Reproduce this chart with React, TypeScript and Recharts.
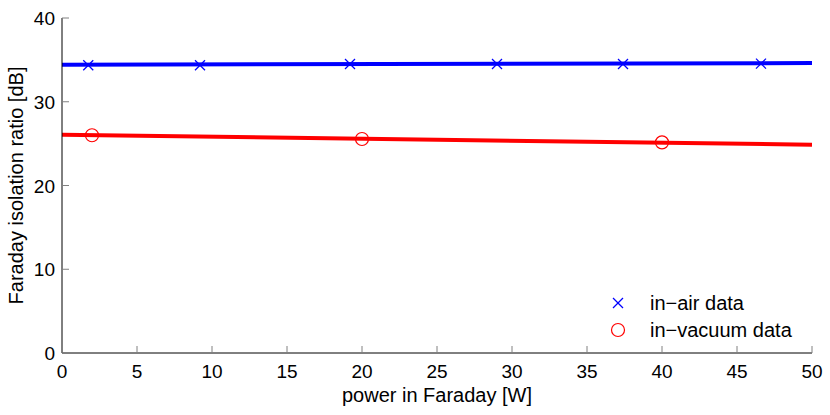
import { ComposedChart, Line, Scatter, XAxis, YAxis } from 'recharts';

const airPower = [1.75, 9.2, 19.2, 29.0, 37.4, 46.6];
const airRatio = [34.35, 34.35, 34.5, 34.5, 34.5, 34.55];
const vacPower = [2, 20, 40];
const vacRatio = [26.0, 25.55, 25.15];
const fitPower = [0, 50];
const airFit = [34.42, 34.62];
const vacFit = [26.07, 24.87];
const xTicks = [0, 5, 10, 15, 20, 25, 30, 35, 40, 45, 50];
const yTicks = [0, 10, 20, 30, 40];
const legendNames = ['in−air data', 'in−vacuum data'];

const airPts = airPower.map((x, i) => ({ x, y: airRatio[i] }));
const vacPts = vacPower.map((x, i) => ({ x, y: vacRatio[i] }));
const airLine = fitPower.map((x, i) => ({ x, y: airFit[i] }));
const vacLine = fitPower.map((x, i) => ({ x, y: vacFit[i] }));

const FONT = '"Liberation Sans", Arial, sans-serif';
const TICK_GREY = '#808080';

function BottomTick({ x, y, payload }: any) {
  return (
    <g>
      <line x1={x} x2={x} y1={y} y2={y - 7} stroke={TICK_GREY} />
      <text x={x} y={y + 25} textAnchor="middle" fontSize={19} fontFamily={FONT} fill="#000">
        {payload.value}
      </text>
    </g>
  );
}

function TopTick({ x, y }: any) {
  return <line x1={x} x2={x} y1={y} y2={y + 7} stroke={TICK_GREY} />;
}

function LeftTick({ x, y, payload }: any) {
  return (
    <g>
      <line x1={x} x2={x + 7} y1={y} y2={y} stroke={TICK_GREY} />
      <text x={x - 7} y={y + 7} textAnchor="end" fontSize={19} fontFamily={FONT} fill="#000">
        {payload.value}
      </text>
    </g>
  );
}

function RightTick({ x, y }: any) {
  return <line x1={x} x2={x - 7} y1={y} y2={y} stroke={TICK_GREY} />;
}

function Cross({ cx, cy }: any) {
  const r = 5;
  return (
    <g stroke="#0000ff" strokeWidth={1.3}>
      <line x1={cx - r} y1={cy - r} x2={cx + r} y2={cy + r} />
      <line x1={cx - r} y1={cy + r} x2={cx + r} y2={cy - r} />
    </g>
  );
}

function Ring({ cx, cy }: any) {
  return <circle cx={cx} cy={cy} r={6.5} fill="none" stroke="#ff0000" strokeWidth={1.2} />;
}

function LegendBox() {
  const row = { display: 'flex', alignItems: 'center', height: 27 };
  return (
    <div style={{ position: 'absolute', left: 600, top: 289, fontFamily: FONT, fontSize: 20, color: '#000', lineHeight: '20px' }}>
      <div style={row}>
        <svg width={50} height={20}>
          <Cross cx={18} cy={10} />
        </svg>
        <span>{legendNames[0]}</span>
      </div>
      <div style={row}>
        <svg width={50} height={20}>
          <Ring cx={18} cy={10} />
        </svg>
        <span>{legendNames[1]}</span>
      </div>
    </div>
  );
}

export default function App() {
  return (
    <div style={{ position: 'absolute', left: 0, top: 0, width: 830, height: 415, background: '#fff' }}>
      <ComposedChart width={830} height={415} margin={{ top: 18, right: 18, left: 0, bottom: 0 }}>
        <XAxis
          xAxisId="b"
          type="number"
          dataKey="x"
          domain={[0, 50]}
          ticks={xTicks}
          height={62}
          tickSize={0}
          tickMargin={0}
          tickLine={false}
          axisLine={{ stroke: '#000' }}
          tick={<BottomTick />}
          interval={0}
          label={{ value: 'power in Faraday [W]', position: 'insideBottom', offset: 13, fontSize: 20, fontFamily: FONT, fill: '#000' }}
        />
        <XAxis
          xAxisId="t"
          orientation="top"
          type="number"
          dataKey="x"
          domain={[0, 50]}
          ticks={xTicks}
          height={0}
          tickSize={0}
          tickMargin={0}
          tickLine={false}
          axisLine={{ stroke: '#000' }}
          tick={<TopTick />}
          interval={0}
        />
        <YAxis
          yAxisId="l"
          type="number"
          dataKey="y"
          domain={[0, 40]}
          ticks={yTicks}
          width={62}
          tickSize={0}
          tickMargin={0}
          tickLine={false}
          axisLine={{ stroke: '#000' }}
          tick={<LeftTick />}
          interval={0}
          label={{ value: 'Faraday isolation ratio [dB]', angle: -90, position: 'insideLeft', offset: 16, style: { textAnchor: 'middle' }, fontSize: 20, fontFamily: FONT, fill: '#000' }}
        />
        <YAxis
          yAxisId="r"
          orientation="right"
          type="number"
          dataKey="y"
          domain={[0, 40]}
          ticks={yTicks}
          width={0}
          tickSize={0}
          tickMargin={0}
          tickLine={false}
          axisLine={{ stroke: '#000' }}
          tick={<RightTick />}
          interval={0}
        />
        <Line xAxisId="b" yAxisId="l" data={airLine} dataKey="y" type="linear" stroke="#0000ff" strokeWidth={4} dot={false} isAnimationActive={false} />
        <Line xAxisId="b" yAxisId="l" data={vacLine} dataKey="y" type="linear" stroke="#ff0000" strokeWidth={4} dot={false} isAnimationActive={false} />
        <Scatter xAxisId="b" yAxisId="l" data={airPts} dataKey="y" shape={<Cross />} isAnimationActive={false} />
        <Scatter xAxisId="b" yAxisId="l" data={vacPts} dataKey="y" shape={<Ring />} isAnimationActive={false} />
      </ComposedChart>
      <LegendBox />
    </div>
  );
}
